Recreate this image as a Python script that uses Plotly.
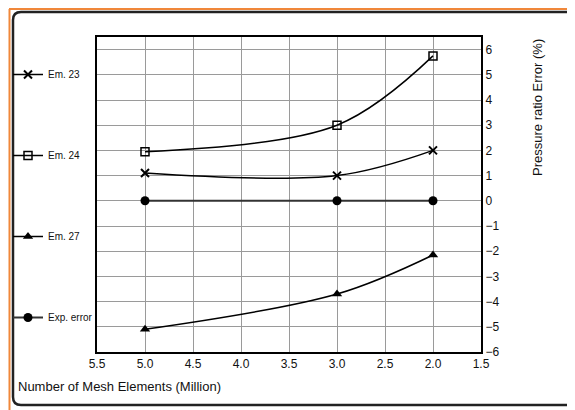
import plotly.graph_objects as go

mesh = [5.0, 3.0, 2.0]
em23 = [1.1, 1.0, 2.0]
em24 = [1.95, 3.0, 5.75]
em27 = [-5.1, -3.7, -2.15]
exp_err = [0.0, 0.0, 0.0]

x_ticks = [5.5, 5.0, 4.5, 4.0, 3.5, 3.0, 2.5, 2.0, 1.5]
y_ticks = list(range(-6, 7))

fig = go.Figure()
fig.add_trace(go.Scatter(x=mesh, y=em23, name="Em. 23", mode="lines+markers",
                         line=dict(color="black", width=1.5, shape="spline"),
                         marker=dict(symbol="x-thin", size=8, line=dict(color="black", width=2)),
                         legendgroup="a"))
fig.add_trace(go.Scatter(x=mesh, y=em24, name="Em. 24", mode="lines+markers",
                         line=dict(color="black", width=1.5, shape="spline"),
                         marker=dict(symbol="square-open", size=8, color="black", line=dict(width=1.5)),
                         legendgroup="b"))
fig.add_trace(go.Scatter(x=mesh, y=em27, name="Em. 27", mode="lines+markers",
                         line=dict(color="black", width=1.5, shape="spline"),
                         marker=dict(symbol="triangle-up", size=9, color="black"),
                         legendgroup="c"))
fig.add_trace(go.Scatter(x=mesh, y=exp_err, name="Exp. error", mode="lines+markers",
                         line=dict(color="#333333", width=2),
                         marker=dict(symbol="circle", size=9, color="black"),
                         legendgroup="d"))

# page body has an 8px margin; figure is sized to end at the window edge
OFF = 8
W, H = 575 - OFF, 410 - OFF
PL, PR, PT, PB = 97, 481, 37, 352          # plot area in window pixels
L, R, T, B = PL - OFF, W - (PR - OFF), PT - OFF, H - (PB - OFF)
pw, ph = PR - PL, PB - PT

def px(X):
    return (X - PL) / pw

def py(Y):
    return (PB - Y) / ph

x0, x1 = px(13), px(600)
y1, y0 = py(12), py(405)
rx, ry = 8 / pw, 8 / ph
frame = (f"M {x1},{y1} L {x0+rx},{y1} Q {x0},{y1} {x0},{y1-ry} "
         f"L {x0},{y0+ry} Q {x0},{y0} {x0+rx},{y0} L {x1},{y0}")

shapes = [
    dict(type="path", path=frame, xref="paper", yref="paper",
         line=dict(color="#222222", width=2.5)),
    dict(type="line", xref="paper", yref="paper", x0=px(9), x1=px(600), y0=py(9), y1=py(9),
         line=dict(color="#F0873A", width=2)),
    dict(type="line", xref="paper", yref="paper", x0=px(9.5), x1=px(9.5), y0=py(9), y1=py(420),
         line=dict(color="#F0873A", width=2)),
]

fig.update_layout(
    width=W, height=H,
    margin=dict(l=L, r=R, t=T, b=B, autoexpand=False),
    paper_bgcolor="white", plot_bgcolor="white",
    font=dict(family="Liberation Sans, Arial, sans-serif", color="#111111", size=12),
    showlegend=True,
    legend=dict(x=px(8), xanchor="left", y=py(60), yanchor="top",
                tracegroupgap=62, itemwidth=30, font=dict(size=10),
                bgcolor="rgba(0,0,0,0)"),
    shapes=shapes,
    annotations=[
        dict(text="Number of Mesh Elements (Million)", xref="paper", yref="paper",
             x=px(16), xanchor="left", y=py(386), yanchor="middle", showarrow=False,
             font=dict(size=13, color="#111111")),
        dict(text="Pressure ratio Error (%)", xref="paper", yref="paper",
             x=px(538), xanchor="center", y=py(108), yanchor="middle", showarrow=False,
             textangle=-90, font=dict(size=13, color="#111111")),
    ],
)
fig.update_xaxes(range=[5.5, 1.5], tickvals=x_ticks, ticktext=[f"{v:.1f}" for v in x_ticks],
                 showgrid=True, gridcolor="#9a9a9a", gridwidth=1,
                 showline=True, linecolor="black", linewidth=2, mirror=True,
                 ticks="", zeroline=False, tickfont=dict(size=12))
fig.update_yaxes(range=[-6, 6.5], tickvals=y_ticks, side="right",
                 showgrid=True, gridcolor="#9a9a9a", gridwidth=1,
                 showline=True, linecolor="black", linewidth=2, mirror=True,
                 ticks="", zeroline=False, tickfont=dict(size=12))

fig.write_html("out.html")
